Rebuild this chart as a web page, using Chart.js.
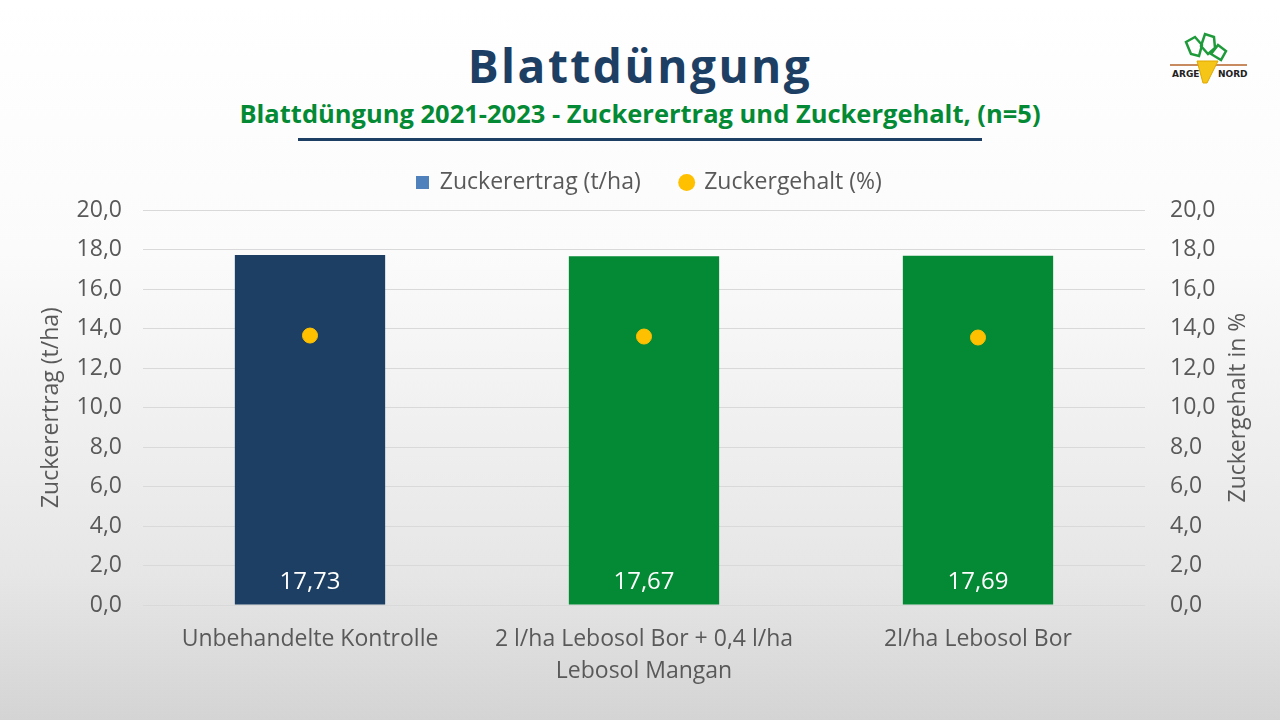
<!DOCTYPE html>
<html lang="de">
<head>
<meta charset="utf-8">
<title>Blattdüngung</title>
<script src="https://cdn.jsdelivr.net/npm/chart.js@4.4.1/dist/chart.umd.min.js"></script>
<style>
    html, body { margin: 0; padding: 0; }
    body {
        width: 1280px; height: 720px; overflow: hidden; position: relative;
        background: linear-gradient(to bottom, #ffffff 0%, #fbfbfb 35%, #e6e6e6 80%, #d4d4d4 100%);
        font-family: "Open Sans", "Noto Sans", sans-serif;
    }
    #title {
        position: absolute; left: 0; top: 35px; width: 1280px; text-align: center;
        font-size: 46px; font-weight: 700; letter-spacing: 2.5px; color: #1c3f63;
        line-height: 60px;
    }
    #subtitle {
        position: absolute; left: 0; top: 97px; width: 1280px; text-align: center;
        font-size: 25.5px; font-weight: 700; color: #048a35; line-height: 32px;
    }
    #rule {
        position: absolute; left: 298px; top: 138px; width: 684px; height: 3px; background: #1c3f63;
    }
    #logo { position: absolute; left: 1165px; top: 28px; }
    #wrap { position: absolute; left: 0; top: 123px; width: 1280px; height: 597px; }
</style>
</head>
<body>
<div id="title">Blattdüngung</div>
<div id="subtitle">Blattdüngung 2021-2023 - Zuckerertrag und Zuckergehalt, (n=5)</div>
<div id="rule"></div>
<svg id="logo" width="90" height="60" viewBox="0 0 90 60">
    <path d="M26 26 L21 14 L30 9 L37 17 L34 28 Z" fill="none" stroke="#1e9a3a" stroke-width="2.5"/>
    <path d="M36 18 L40 6 L49 9 L50 20 L43 26 Z" fill="none" stroke="#1e9a3a" stroke-width="2.5"/>
    <path d="M46 26 L53 17 L61 23 L56 32 Z" fill="none" stroke="#1e9a3a" stroke-width="2.5"/>
    <line x1="5" y1="37" x2="82" y2="37" stroke="#b5652a" stroke-width="1.5"/>
    <path d="M32 33 L53 33 L42 55 L38 55 Z" fill="#f5c518" stroke="#e0a800" stroke-width="1"/>
    <text x="7" y="49" font-family="DejaVu Sans" font-size="9" font-weight="700" fill="#222">ARGE</text>
    <text x="53" y="49" font-family="DejaVu Sans" font-size="9" font-weight="700" fill="#222">NORD</text>
</svg>
<div id="wrap"><canvas id="chart"></canvas></div>
<script>
// chart data
const categories = [
    'Unbehandelte Kontrolle',
    ['2 l/ha Lebosol Bor + 0,4 l/ha', 'Lebosol Mangan'],
    '2l/ha Lebosol Bor'
];
const zuckerertrag = [17.73, 17.67, 17.69];
const zuckergehalt = [13.65, 13.6, 13.55];
const barColors = ['#1c3f63', '#048a35', '#048a35'];
const tickValues = [0, 2, 4, 6, 8, 10, 12, 14, 16, 18, 20];

const gray = '#595959';
const fontFamily = '"Open Sans", "Noto Sans", sans-serif';
const labelFont = { family: fontFamily, size: 23 };
const fmt = (v, d) => v.toFixed(d).replace('.', ',');

// square legend marker for the bar series
const legendSquare = document.createElement('canvas');
legendSquare.width = 13;
legendSquare.height = 13;
const sq = legendSquare.getContext('2d');
sq.fillStyle = '#4f81bd';
sq.fillRect(0, 0, 13, 13);

// white value labels at the bottom of each bar + right axis title read bottom-to-top
const extras = {
    id: 'extras',
    afterDatasetsDraw(chart) {
        const ctx = chart.ctx;
        const meta = chart.getDatasetMeta(0);
        ctx.save();
        ctx.fillStyle = '#ffffff';
        ctx.font = '24px ' + fontFamily;
        ctx.textAlign = 'center';
        ctx.textBaseline = 'middle';
        meta.data.forEach((bar, i) => {
            ctx.fillText(fmt(zuckerertrag[i], 2), bar.x, bar.base - 22);
        });
        ctx.restore();
    },
    afterDraw(chart) {
        const ctx = chart.ctx;
        const area = chart.chartArea;
        ctx.save();
        ctx.fillStyle = gray;
        ctx.font = '23px ' + fontFamily;
        ctx.textAlign = 'center';
        ctx.textBaseline = 'middle';
        ctx.translate(chart.scales.y1.right - 22, (area.top + area.bottom) / 2);
        ctx.rotate(-Math.PI / 2);
        ctx.fillText('Zuckergehalt in %', 0, 0);
        ctx.restore();
    }
};

new Chart(document.getElementById('chart'), {
    data: {
        labels: categories,
        datasets: [{
            type: 'bar',
            label: 'Zuckerertrag (t/ha)',
            data: zuckerertrag,
            backgroundColor: barColors,
            categoryPercentage: 1,
            barPercentage: 0.45,
            yAxisID: 'y',
            order: 2
        }, {
            type: 'line',
            label: 'Zuckergehalt (%)',
            data: zuckergehalt,
            showLine: false,
            pointRadius: 7.5,
            pointHoverRadius: 7.5,
            pointBackgroundColor: '#ffc000',
            pointBorderColor: '#ffc000',
            yAxisID: 'y1',
            order: 1
        }]
    },
    options: {
        responsive: true,
        maintainAspectRatio: false,
        animation: false,
        layout: { padding: { left: 38, right: 20, top: 8, bottom: 0 } },
        plugins: {
            tooltip: { enabled: false },
            // empty spacer between legend and plot area
            subtitle: {
                display: true,
                text: ' ',
                weight: 500,
                font: { size: 1 },
                padding: { top: 0, bottom: 5 }
            },
            legend: {
                position: 'top',
                labels: {
                    color: gray,
                    font: { family: fontFamily, size: 23, lineHeight: 1.6 },
                    usePointStyle: true,
                    boxHeight: 12,
                    boxWidth: 12,
                    padding: 40,
                    generateLabels: () => [
                        { text: 'Zuckerertrag (t/ha)', fillStyle: '#4f81bd', strokeStyle: '#4f81bd', lineWidth: 0, pointStyle: legendSquare, fontColor: gray, datasetIndex: 0 },
                        { text: 'Zuckergehalt (%)', fillStyle: '#ffc000', strokeStyle: '#ffc000', lineWidth: 0, pointStyle: 'circle', fontColor: gray, datasetIndex: 1 }
                    ]
                }
            }
        },
        scales: {
            x: {
                grid: { display: false },
                border: { display: false },
                ticks: { color: gray, font: { family: fontFamily, size: 23, lineHeight: 1.4 }, maxRotation: 0, padding: 10 },
                afterFit: (s) => { s.height = 115; }
            },
            y: {
                position: 'left',
                min: 0, max: 20,
                afterBuildTicks: (s) => { s.ticks = tickValues.map(v => ({ value: v })); },
                ticks: { color: gray, font: labelFont, callback: (v) => fmt(v, 1), padding: 21 },
                grid: { color: '#d9d9d9', drawTicks: false },
                border: { display: false },
                title: { display: true, text: 'Zuckerertrag (t/ha)', color: gray, font: labelFont, padding: 0 },
                afterFit: (s) => { s.width = 105; }
            },
            y1: {
                position: 'right',
                min: 0, max: 20,
                afterBuildTicks: (s) => { s.ticks = tickValues.map(v => ({ value: v })); },
                ticks: { color: gray, font: labelFont, callback: (v) => fmt(v, 1), padding: 25 },
                grid: { display: false, drawTicks: false },
                border: { display: false },
                afterFit: (s) => { s.width = 115; }
            }
        }
    },
    plugins: [extras]
});
</script>
</body>
</html>
